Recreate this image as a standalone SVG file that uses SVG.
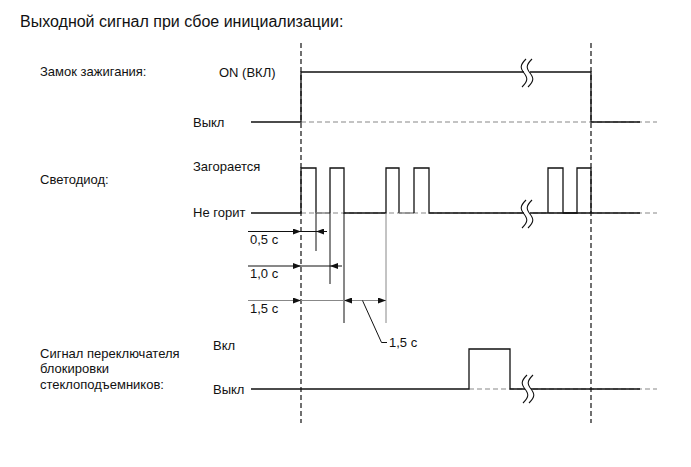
<svg xmlns="http://www.w3.org/2000/svg" width="691" height="467" viewBox="0 0 691 467">
<defs>
<style>
text{font-family:"Liberation Sans",Arial,sans-serif;font-size:13px;fill:#111}
.title{font-size:16px}
.sig{fill:none;stroke:#111;stroke-width:1.3}
.sig2{fill:none;stroke:#777;stroke-width:1.3}
.base{fill:none;stroke:#888;stroke-width:1.2;stroke-dasharray:5 3}
.vd{fill:none;stroke:#111;stroke-width:1.2;stroke-dasharray:5 3}
.dim{fill:none;stroke:#111;stroke-width:1}
.dimg{fill:none;stroke:#888;stroke-width:1}
.brk{fill:none;stroke:#111;stroke-width:1.1}
</style>
<marker id="ah" viewBox="0 0 8 6" refX="8" refY="3" markerWidth="8" markerHeight="6" markerUnits="userSpaceOnUse" orient="auto">
<path d="M0,0 L8,3 L0,6 Z" fill="#111"/>
</marker>
<g id="breakmark">
<rect x="-3" y="0" width="6" height="28" fill="#fff"/>
<path class="brk" d="M-1,0 C-7,6 -7,9 -3,14 S1,22 -5,28"/>
<path class="brk" d="M5,0 C-1,6 -1,9 3,14 S7,22 1,28"/>
</g>
</defs>
<rect width="691" height="467" fill="#fff"/>
<text class="title" x="20" y="27">Выходной сигнал при сбое инициализации:</text>

<g id="ignition">
<text x="40" y="76">Замок зажигания:</text>
<text x="219" y="77">ON (ВКЛ)</text>
<text x="193" y="127">Выкл</text>
<path class="base" d="M301,122 H657"/>
<path class="sig" d="M251,122 H301 V72 H591 V122 H640"/>
<use href="#breakmark" x="527" y="59"/>
</g>

<g id="led">
<text x="40" y="184">Светодиод:</text>
<text x="193" y="171">Загорается</text>
<text x="193" y="217">Не горит</text>
<path class="base" d="M301,213 H657"/>
<path class="sig" d="M251,213 H301 V168 H316 V213"/>
<path class="sig2" d="M316,213 H330"/>
<path class="sig" d="M330,213 V168 H344 V213 H386 V168 H399 V213"/>
<path class="sig2" d="M399,213 H414"/>
<path class="sig" d="M414,213 V168 H429 V213 H640"/>
<path class="sig" d="M548,213 V168 H563 V213 H577 V168 H591 V213"/>
<use href="#breakmark" x="527" y="200"/>
</g>

<g id="window-lock">
<text x="40" y="358">Сигнал переключателя</text>
<text x="40" y="373">блокировки</text>
<text x="40" y="389">стеклоподъемников:</text>
<text x="213" y="350">Вкл</text>
<text x="213" y="394">Выкл</text>
<path class="base" d="M469,389 H657"/>
<path class="sig" d="M251,389 H469 V349 H510 V389 H640"/>
<use href="#breakmark" x="528" y="375"/>
</g>

<g id="connectors">
<path class="vd" d="M301,43 V423"/>
<path class="vd" d="M591,43 V423"/>
<!-- extension lines -->
<path class="dim" d="M316,213 V251"/>
<path class="dim" d="M330,213 V284"/>
<path class="dim" d="M344,213 V323"/>
<path class="dimg" d="M386,213 V323"/>
<!-- 0,5 s -->
<path class="dim" d="M248,231.5 H301" marker-end="url(#ah)"/>
<path class="dim" d="M301,231.5 H316"/>
<path class="dim" d="M327,231.5 H316" marker-end="url(#ah)"/>
<!-- 1,0 s -->
<path class="dim" d="M248,266 H301" marker-end="url(#ah)"/>
<path class="dim" d="M301,266 H330"/>
<path class="dim" d="M342,266 H330" marker-end="url(#ah)"/>
<!-- 1,5 s -->
<path class="dimg" d="M248,300.5 H301" marker-end="url(#ah)"/>
<path class="dimg" d="M301,300.5 H344"/>
<path class="dimg" d="M365,300.5 H344" marker-end="url(#ah)"/>
<path class="dimg" d="M360,300.5 H386" marker-end="url(#ah)"/>
<path class="dim" d="M362.5,300.5 L381.5,342.5 H387"/>
</g>
<text x="250" y="244">0,5 с</text>
<text x="250" y="278">1,0 с</text>
<text x="250" y="313">1,5 с</text>
<text x="389" y="347">1,5 с</text>
</svg>
